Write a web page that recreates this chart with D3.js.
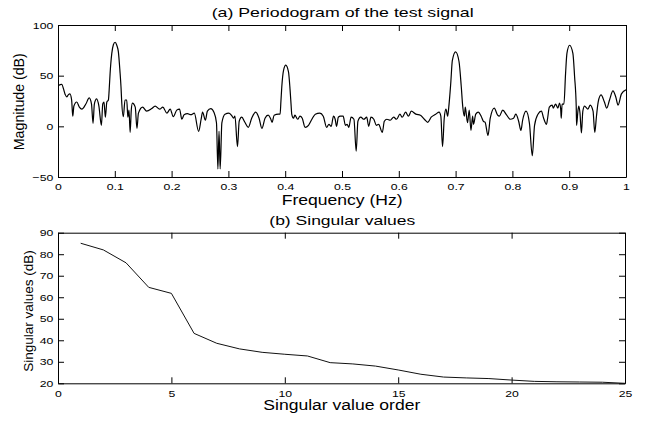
<!DOCTYPE html>
<html><head><meta charset="utf-8">
<script src="https://cdn.jsdelivr.net/npm/d3@7"></script>
<style>body{margin:0;background:#fff} text{font-family:"Liberation Sans",Arial,Helvetica,sans-serif;fill:#000}</style>
</head><body><svg id="c" width="646" height="422"></svg>
<script>
// ---- data ----
const freqTicks = [0,0.1,0.2,0.3,0.4,0.5,0.6,0.7,0.8,0.9,1];
const magTicks = [-50,0,50,100];
const periodogram = [
[0.000,40],[0.0065,41.5],[0.0123,32],[0.0153,29],[0.018,31],[0.021,32],[0.024,26],[0.026,10],[0.028,20],[0.033,24],[0.0376,19],[0.042,17],[0.049,22],[0.055,28],[0.059,22],[0.0617,3],[0.064,22],[0.068,27],[0.072,20],[0.0764,1],[0.0788,22],[0.081,24],[0.0834,9],[0.086,24],[0.0887,26],
[0.0905,40],[0.0917,52],[0.0947,72],[0.0975,80.5],[0.1005,83],[0.1035,80],[0.1063,73.5],[0.109,55],[0.111,38],[0.112,26],
[0.115,9.5],[0.118,26],[0.121,26],[0.123,9],[0.125,16],[0.127,-6],[0.129,16],[0.131,23],[0.136,19],[0.139,-2],[0.1416,13],[0.149,19],[0.156,15],[0.165,17.5],[0.171,20],[0.179,17],[0.1846,19],[0.1917,13],[0.1975,17],[0.203,9.5],[0.209,16],[0.214,17],[0.218,7],[0.222,11.5],[0.228,12.5],[0.234,11.5],[0.240,13],
[0.2475,-5],[0.252,7],[0.2545,14],[0.2595,6],[0.263,15],[0.269,17.5],[0.2745,14],[0.279,3.5],[0.2815,-42],[0.2835,-5],[0.2855,-42],[0.2885,3.5],[0.294,12],[0.301,13],[0.3065,10],[0.309,8],[0.3115,10],[0.316,-20],[0.319,5],[0.3235,9],[0.329,4],[0.335,-1],[0.341,8],[0.348,14],[0.354,8],[0.359,-2],[0.3645,8],[0.370,11],[0.374,8],[0.377,4],[0.3805,11],[0.388,12],[0.391,12],
[0.3925,25],[0.394,39],[0.397,55],[0.401,60.4],[0.4057,54],[0.4086,36],[0.4105,20],[0.4115,12],
[0.4145,8],[0.417,11],[0.422,7],[0.426,10],[0.430,8],[0.435,-1],[0.441,1],[0.447,7],[0.453,12],[0.461,13],[0.467,10],[0.473,-1],[0.477,2],[0.481,0],[0.485,10],[0.488,7],[0.4905,0],[0.4935,9],[0.497,10],
[0.502,10],[0.506,1],[0.509,2],[0.512,-1],[0.516,9],[0.521,7],[0.525,-24.5],[0.528,5],[0.533,9],[0.5385,7],[0.5435,9],[0.547,0],[0.551,9],[0.556,7],[0.5605,1],[0.5645,2],[0.571,-6],[0.5745,5],[0.579,7],[0.585,6],[0.591,9],[0.596,7],[0.602,12],[0.606,9],[0.612,14],[0.617,10],[0.622,15],[0.630,12],[0.638,11],[0.645,7],[0.651,4],[0.657,9],[0.665,12],[0.671,14],[0.674,10],[0.677,-20],[0.680,8],[0.683,17],[0.686,10],[0.688,19],
[0.6914,42],[0.6943,65],[0.700,73.5],[0.706,64],[0.710,39],[0.7125,20],
[0.7155,10],[0.717,19],[0.721,3.6],[0.724,16],[0.727,-4],[0.730,10],[0.7315,2],[0.7355,12],[0.740,14],[0.745,10],[0.749,5],
[0.752,4],[0.757,-9],[0.761,8],[0.768,18],[0.774,11],[0.777,10],[0.783,16],[0.790,11],[0.796,7],[0.802,8],[0.806,12],[0.811,5],[0.815,-4],[0.818,6],[0.824,15],[0.830,3],[0.835,-29],[0.839,1],[0.845,12],[0.851,15],[0.855,8],[0.860,2],[0.862,8],[0.865,19],[0.870,21],[0.872,18],[0.876,22],[0.880,18],[0.883,23],[0.885,17],[0.886,8],[0.8875,22],[0.8907,22],
[0.8936,52],[0.896,72],[0.9007,80],[0.9065,72],[0.9095,49],[0.9124,19],[0.913,1],[0.9155,16],[0.917,20],[0.919,13],[0.9215,-6.5],[0.924,15],[0.927,20],[0.933,17],[0.937,21],[0.942,15],[0.945,-6],[0.948,10],[0.951,24],[0.956,31],[0.962,24],[0.966,18],[0.971,26],[0.977,35],[0.982,29],[0.986,21],[0.992,32],[1.000,36]
];
const svOrder = [1,2,3,4,5,6,7,8,9,10,11,12,13,14,15,16,17,18,19,20,21,22,23,24,25];
const svValues = [85.1,82,76,64.6,61.8,43.2,38.6,36,34.4,33.5,32.7,29.6,29,28,26.2,24.2,22.9,22.5,22.2,21.5,20.9,20.7,20.6,20.5,20];
const orderTicks = [0,5,10,15,20,25];
const svTicks = [20,30,40,50,60,70,80,90];

// ---- layout ----
const svg = d3.select("#c");
const A = {l:58, r:626, t:25, b:177};
const B = {l:58, r:625, t:232.7, b:383.3};
const xA = d3.scaleLinear().domain([0,1]).range([A.l,A.r]);
const yA = d3.scaleLinear().domain([-50,100]).range([A.b,A.t]);
const xB = d3.scaleLinear().domain([0,25]).range([B.l,B.r]);
const yB = d3.scaleLinear().domain([20,90]).range([B.b,B.t]);
const TS = 1.25; // horizontal stretch of tick labels

function frame(P, x, y, xt, yt, xfmt, yfmt, xpad) {
  const g = svg.append("g");
  const style = s => s.attr("font-size", 9.8).attr("font-family", '"Liberation Sans",Arial,sans-serif');
  const bx = g.append("g").attr("transform", `translate(0,${P.b})`)
    .call(d3.axisBottom(x).tickValues(xt).tickSizeInner(-6).tickSizeOuter(0).tickPadding(xpad).tickFormat(xfmt));
  style(bx); bx.selectAll("text").attr("transform", `scale(${TS},1)`);
  const ly = g.append("g").attr("transform", `translate(${P.l},0)`)
    .call(d3.axisLeft(y).tickValues(yt).tickSizeInner(-6).tickSizeOuter(0).tickPadding(3.8).tickFormat(yfmt));
  style(ly); ly.selectAll("text").attr("transform", `scale(${TS},1)`);
  g.append("g").attr("transform", `translate(0,${P.t})`)
    .call(d3.axisTop(x).tickValues(xt).tickSizeInner(-6).tickSizeOuter(0).tickFormat(""));
  g.append("g").attr("transform", `translate(${P.r},0)`)
    .call(d3.axisRight(y).tickValues(yt).tickSizeInner(-6).tickSizeOuter(0).tickFormat(""));
  g.selectAll(".domain").attr("stroke", "#000");
  g.selectAll(".tick line").attr("stroke", "#000");
}

const fmtF = d => String(+d.toFixed(1));
const fmtM = d => d < 0 ? "\u2212" + (-d) : String(d);
frame(A, xA, yA, freqTicks, magTicks, fmtF, fmtM, 5.7);
frame(B, xB, yB, orderTicks, svTicks, d => String(d), d => String(d), 6.7);

// ---- lines ----
svg.append("defs").append("clipPath").attr("id", "clipA")
  .append("rect").attr("x", A.l).attr("y", A.t).attr("width", A.r - A.l).attr("height", A.b - A.t);
svg.append("path").datum(periodogram)
  .attr("clip-path", "url(#clipA)")
  .attr("fill", "none").attr("stroke", "#000").attr("stroke-width", 1.2).attr("stroke-linejoin", "round")
  .attr("d", d3.line().curve(d3.curveMonotoneX).x(d => xA(d[0])).y(d => yA(d[1])));

svg.append("path").datum(svOrder.map((o, i) => [o, svValues[i]]))
  .attr("fill", "none").attr("stroke", "#111").attr("stroke-width", 1)
  .attr("d", d3.line().x(d => xB(d[0])).y(d => yB(d[1])));

// ---- texts ----
function htext(str, x, y, size, len) {
  svg.append("text").attr("x", x).attr("y", y).attr("font-size", size)
    .attr("textLength", len).attr("lengthAdjust", "spacingAndGlyphs").text(str);
}
htext("(a) Periodogram of the test signal", 211.7, 17.3, 13.3, 262);
htext("Frequency (Hz)", 281.7, 205, 13.8, 121);
htext("(b) Singular values", 269.3, 225, 13.3, 146);
htext("Singular value order", 263.3, 410, 13.8, 157);

function vtext(str, x, y, size, len) {
  svg.append("text").attr("transform", `translate(${x},${y}) rotate(-90)`)
    .attr("text-anchor", "middle").attr("font-size", size)
    .attr("textLength", len).attr("lengthAdjust", "spacingAndGlyphs").text(str);
}
vtext("Magnitude (dB)", 24, 101.7, 14, 97);
vtext("Singular values (dB)", 32.5, 311, 13.5, 121.7);
</script></body></html>
